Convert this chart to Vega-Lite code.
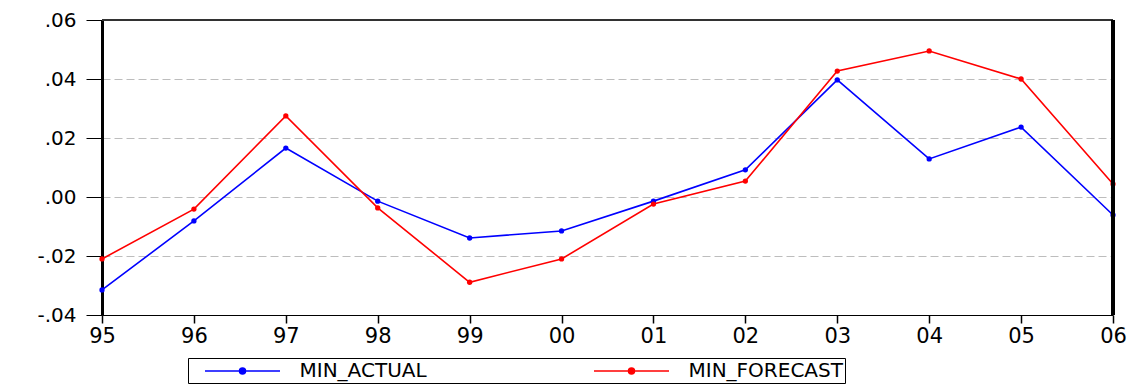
{
  "$schema": "https://vega.github.io/schema/vega-lite/v6.json",
  "autosize": {"type": "none"},
  "width": 1011,
  "height": 295,
  "padding": {"left": 102, "top": 20, "right": 32, "bottom": 72},
  "background": "white",
  "config": {
    "view": {"stroke": null},
    "font": "DejaVu Sans"
  },
  "data": {
    "values": [
      {"year": "95", "series": "MIN_ACTUAL", "value": -0.0315},
      {"year": "96", "series": "MIN_ACTUAL", "value": -0.0081},
      {"year": "97", "series": "MIN_ACTUAL", "value": 0.0166},
      {"year": "98", "series": "MIN_ACTUAL", "value": -0.0014},
      {"year": "99", "series": "MIN_ACTUAL", "value": -0.0139},
      {"year": "00", "series": "MIN_ACTUAL", "value": -0.0115},
      {"year": "01", "series": "MIN_ACTUAL", "value": -0.0014},
      {"year": "02", "series": "MIN_ACTUAL", "value": 0.0092},
      {"year": "03", "series": "MIN_ACTUAL", "value": 0.0397},
      {"year": "04", "series": "MIN_ACTUAL", "value": 0.0129},
      {"year": "05", "series": "MIN_ACTUAL", "value": 0.0237},
      {"year": "06", "series": "MIN_ACTUAL", "value": -0.0061},
      {"year": "95", "series": "MIN_FORECAST", "value": -0.0210},
      {"year": "96", "series": "MIN_FORECAST", "value": -0.0041},
      {"year": "97", "series": "MIN_FORECAST", "value": 0.0275},
      {"year": "98", "series": "MIN_FORECAST", "value": -0.0037},
      {"year": "99", "series": "MIN_FORECAST", "value": -0.0289},
      {"year": "00", "series": "MIN_FORECAST", "value": -0.0210},
      {"year": "01", "series": "MIN_FORECAST", "value": -0.0024},
      {"year": "02", "series": "MIN_FORECAST", "value": 0.0054},
      {"year": "03", "series": "MIN_FORECAST", "value": 0.0427},
      {"year": "04", "series": "MIN_FORECAST", "value": 0.0495},
      {"year": "05", "series": "MIN_FORECAST", "value": 0.0400},
      {"year": "06", "series": "MIN_FORECAST", "value": 0.0044}
    ]
  },
  "layer": [
    {
      "mark": {"type": "line", "strokeWidth": 1.6, "point": {"filled": true, "size": 28, "opacity": 1}},
      "encoding": {
        "x": {
          "field": "year",
          "type": "ordinal",
          "sort": null,
          "scale": {"type": "point", "padding": 0},
          "axis": {
            "title": null,
            "labelAngle": 0,
            "labelFont": "DejaVu Sans",
            "labelFontSize": 21,
            "labelColor": "black",
            "labelPadding": 2,
            "tickSize": 8,
            "tickColor": "black",
            "tickWidth": 1.5,
            "domainColor": "black",
            "domainWidth": 1,
            "grid": false
          }
        },
        "y": {
          "field": "value",
          "type": "quantitative",
          "scale": {"domain": [-0.04, 0.06], "nice": false, "zero": false},
          "axis": {
            "title": null,
            "values": [-0.04, -0.02, 0, 0.02, 0.04, 0.06],
            "labelExpr": "(datum.value < -0.000001 ? '-' : '') + replace(format(abs(datum.value), '.2f'), '0.', '.')",
            "labelFont": "DejaVu Sans",
            "labelFontSize": 20,
            "labelColor": "black",
            "labelPadding": 10,
            "tickSize": 16,
            "tickColor": "black",
            "tickWidth": 1,
            "domainColor": "black",
            "domainWidth": 3,
            "grid": true,
            "gridColor": "#bdbdbd",
            "gridDash": [8, 4],
            "gridWidth": 1
          }
        },
        "color": {
          "field": "series",
          "type": "nominal",
          "scale": {"domain": ["MIN_ACTUAL", "MIN_FORECAST"], "range": ["#0000ff", "#ff0000"]},
          "legend": {
            "title": null,
            "orient": "none",
            "direction": "horizontal",
            "legendX": 86,
            "legendY": 338,
            "columns": 2,
            "strokeColor": "black",
            "padding": 2,
            "symbolOffset": 41.5,
            "symbolType": "M-3.75,0L3.75,0M-0.3,0A0.3,0.3,0,1,1,0.3,0A0.3,0.3,0,1,1,-0.3,0Z",
            "symbolSize": 400,
            "symbolStrokeWidth": 1.5,
            "labelFont": "DejaVu Sans",
            "labelFontSize": 20,
            "labelColor": "black",
            "labelOffset": 46,
            "columnPadding": 152,
            "encode": {
              "symbols": {
                "update": {
                  "fill": {"scale": "color", "field": "value"},
                  "stroke": {"scale": "color", "field": "value"}
                }
              }
            }
          }
        }
      }
    },
    {
      "mark": {"type": "rule", "color": "#333333", "strokeWidth": 1.2},
      "encoding": {"y": {"datum": 0.06, "type": "quantitative"}}
    },
    {
      "mark": {"type": "rule", "color": "black", "strokeWidth": 3},
      "encoding": {"x": {"datum": "06", "type": "ordinal"}}
    }
  ]
}
